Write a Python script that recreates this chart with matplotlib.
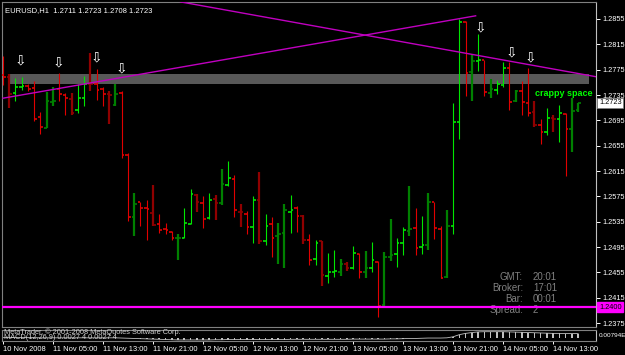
import matplotlib
matplotlib.use("Agg")
from matplotlib import pyplot as plt
from matplotlib import transforms
import numpy as np
import pandas as pd

# hourly EURUSD bars, 10 Nov 2008 21:00 .. 14 Nov 2008 17:00
opens = [1.2767, 1.2763, 1.2738, 1.2747, 1.2749, 1.2746, 1.2700, 1.2683, 1.2724, 1.2744,
         1.2735, 1.2729, 1.2712, 1.2731, 1.2753, 1.2753, 1.2744, 1.2736, 1.2720, 1.2739,
         1.2641, 1.2542, 1.2566, 1.2556, 1.2549, 1.2531, 1.2523, 1.2519, 1.2509, 1.2510,
         1.2532, 1.2578, 1.2564, 1.2541, 1.2571, 1.2564, 1.2593, 1.2603, 1.2551, 1.2547,
         1.2526, 1.2570, 1.2505, 1.2531, 1.2512, 1.2518, 1.2551, 1.2557, 1.2544, 1.2506,
         1.2476, 1.2504, 1.2449, 1.2455, 1.2456, 1.2469, 1.2462, 1.2484, 1.2456, 1.2462,
         1.2472, 1.2404, 1.2479, 1.2484, 1.2502, 1.2520, 1.2525, 1.2495, 1.2498, 1.2566,
         1.2523, 1.2448, 1.2529, 1.2693, 1.2850, 1.2772, 1.2788, 1.2790, 1.2738, 1.2743,
         1.2751, 1.2778, 1.2725, 1.2741, 1.2722, 1.2708, 1.2688, 1.2676, 1.2698, 1.2697,
         1.2705, 1.2681, 1.2711]
highs = [1.2796, 1.2768, 1.2762, 1.2764, 1.2752, 1.2757, 1.2709, 1.2740, 1.2747, 1.2769,
         1.2738, 1.2738, 1.2752, 1.2765, 1.2801, 1.2776, 1.2748, 1.2741, 1.2753, 1.2741,
         1.2643, 1.2581, 1.2567, 1.2569, 1.2593, 1.2548, 1.2533, 1.2520, 1.2515, 1.2557,
         1.2586, 1.2579, 1.2575, 1.2581, 1.2577, 1.2618, 1.2631, 1.2609, 1.2563, 1.2552,
         1.2576, 1.2613, 1.2548, 1.2543, 1.2533, 1.2563, 1.2577, 1.2560, 1.2546, 1.2516,
         1.2506, 1.2505, 1.2485, 1.2490, 1.2476, 1.2471, 1.2497, 1.2485, 1.2489, 1.2503,
         1.2473, 1.2487, 1.2539, 1.2509, 1.2527, 1.2592, 1.2557, 1.2544, 1.2580, 1.2567,
         1.2529, 1.2554, 1.2723, 1.2855, 1.2852, 1.2798, 1.2831, 1.2791, 1.2760, 1.2759,
         1.2787, 1.2787, 1.2743, 1.2757, 1.2777, 1.2725, 1.2697, 1.2714, 1.2704, 1.2719,
         1.2706, 1.2730, 1.2723]
lows = [1.2751, 1.2715, 1.2725, 1.2743, 1.2742, 1.2694, 1.2673, 1.2683, 1.2718, 1.2725,
        1.2704, 1.2704, 1.2706, 1.2717, 1.2741, 1.2727, 1.2718, 1.2690, 1.2718, 1.2635,
        1.2537, 1.2513, 1.2529, 1.2507, 1.2529, 1.2517, 1.2515, 1.2507, 1.2474, 1.2509,
        1.2531, 1.2551, 1.2525, 1.2540, 1.2538, 1.2562, 1.2592, 1.2543, 1.2526, 1.2516,
        1.2501, 1.2500, 1.2498, 1.2479, 1.2468, 1.2462, 1.2518, 1.2519, 1.2500, 1.2467,
        1.2467, 1.2433, 1.2439, 1.2448, 1.2449, 1.2458, 1.2461, 1.2446, 1.2447, 1.2456,
        1.2384, 1.2401, 1.2473, 1.2464, 1.2483, 1.2513, 1.2482, 1.2484, 1.2490, 1.2508,
        1.2446, 1.2446, 1.2516, 1.2666, 1.2733, 1.2725, 1.2773, 1.2733, 1.2731, 1.2737,
        1.2747, 1.2711, 1.2724, 1.2704, 1.2702, 1.2685, 1.2658, 1.2672, 1.2677, 1.2661,
        1.2607, 1.2645, 1.2708]
closes = [1.2763, 1.2737, 1.2747, 1.2749, 1.2744, 1.2697, 1.2684, 1.2725, 1.2726, 1.2737,
          1.2730, 1.2706, 1.2731, 1.2752, 1.2752, 1.2743, 1.2736, 1.2735, 1.2736, 1.2640,
          1.2543, 1.2563, 1.2556, 1.2555, 1.2530, 1.2522, 1.2522, 1.2510, 1.2510, 1.2533,
          1.2579, 1.2566, 1.2540, 1.2569, 1.2564, 1.2594, 1.2604, 1.2553, 1.2550, 1.2526,
          1.2569, 1.2504, 1.2529, 1.2510, 1.2516, 1.2554, 1.2554, 1.2544, 1.2507, 1.2474,
          1.2502, 1.2451, 1.2456, 1.2457, 1.2468, 1.2462, 1.2485, 1.2456, 1.2462, 1.2474,
          1.2402, 1.2479, 1.2483, 1.2501, 1.2522, 1.2523, 1.2493, 1.2499, 1.2567, 1.2525,
          1.2447, 1.2529, 1.2692, 1.2851, 1.2769, 1.2788, 1.2790, 1.2740, 1.2745, 1.2752,
          1.2778, 1.2724, 1.2741, 1.2724, 1.2706, 1.2688, 1.2676, 1.2698, 1.2697, 1.2706,
          1.2681, 1.2710, 1.2723]
# bar state from the colouring indicator: g/r bright, G/R dark
states = "rRggrrrGGrrRggRrrRGrrGrrRrrrGggRrgRGgrRrgRgrGGgrRrgRggGRgrGgrGGggGrgGrrGggrGgrGggrGrrRrgRgrGG"

times = pd.date_range("2008-11-10 21:00", periods=len(opens), freq="h")

# objects drawn on the chart
band_top, band_bot = 1.2768, 1.2752
band_from, band_to = 1.07, 93.7
rise_line = ([0, 75.6], [1.2730, 1.2860])
fall_line = ([28.4, 94.8], [1.2882, 1.2764])
level = 1.2400
arrow_bars = [2.8, 8.9, 14.9, 18.9, 76.3, 81.4, 84.3]
arrow_prices = [1.2789, 1.2786, 1.2794, 1.2777, 1.2841, 1.2802, 1.2795]

# MACD histogram (indicator window)
macd = [0.0004, 0.0004, 0.0004, 0.0004, 0.0004, 0.0004, 0.0003, 0.0003, 0.0003, 0.0003,
        0.0003, 0.0003, 0.0003, 0.0003, 0.0003, 0.0003, 0.0003, 0.0003, 0.0003, 0.0002,
        0.0001, 0.0000, -0.0001, -0.0002, -0.0003, -0.0004, -0.0005, -0.0006, -0.0007, -0.0007,
        -0.0007, -0.0007, -0.0007, -0.0007, -0.0006, -0.0006, -0.0005, -0.0005, -0.0005, -0.0005,
        -0.0005, -0.0005, -0.0005, -0.0005, -0.0005, -0.0005, -0.0004, -0.0004, -0.0004, -0.0004,
        -0.0004, -0.0004, -0.0004, -0.0004, -0.0004, -0.0004, -0.0003, -0.0003, -0.0003, -0.0003,
        -0.0003, -0.0003, -0.0002, -0.0002, -0.0001, 0.0000, 0.0000, 0.0001, 0.0002, 0.0002,
        0.0002, 0.0003, 0.0008, 0.0018, 0.0024, 0.0028, 0.0031, 0.0032, 0.0032, 0.0032,
        0.0032, 0.0031, 0.0030, 0.0029, 0.0028, 0.0027, 0.0026, 0.0025, 0.0024, 0.0024,
        0.0023, 0.0023, 0.0023]

W, H = 625, 355
plt.rcParams["font.family"] = ["Liberation Sans", "DejaVu Sans"]
fig = plt.figure(figsize=(W / 100, H / 100), dpi=100, facecolor="black")

def box(x0, y0, x1, y1):
    return [x0 / W, 1 - y1 / H, (x1 - x0) / W, (y1 - y0) / H]

ax = fig.add_axes(box(2, 2, 596, 327), facecolor="black")
ind = fig.add_axes(box(2, 330, 596, 341), facecolor="black")

x = np.arange(len(opens))
colors = {"g": "#00e600", "G": "#008000", "r": "#e00000", "R": "#900000"}
widths = {"g": 0.8, "G": 1.6, "r": 0.8, "R": 1.6}

ax.fill_between([band_from, band_to], band_bot, band_top, color="#585858", lw=0, zorder=1)

for i, s in enumerate(states):
    c, lw = colors[s], widths[s]
    ax.plot([x[i], x[i]], [lows[i], highs[i]], color=c, lw=lw, zorder=3, solid_capstyle="butt")
    ax.plot([x[i] - 0.42, x[i]], [opens[i], opens[i]], color=c, lw=1.2, zorder=3, solid_capstyle="butt")
    ax.plot([x[i], x[i] + 0.42], [closes[i], closes[i]], color=c, lw=1.2, zorder=3, solid_capstyle="butt")

ax.plot(rise_line[0], rise_line[1], color="#c000c0", lw=1.0, zorder=4)
ax.plot(fall_line[0], fall_line[1], color="#c000c0", lw=1.0, zorder=4)
ax.axhline(level, color="#ff00ff", lw=1.6, zorder=4)

for bx, by in zip(arrow_bars, arrow_prices):
    ax.text(bx, by, "\u21e9", color="white", fontsize=10, ha="center", va="center", zorder=5,
            family="DejaVu Sans")

ax.text(85.1, 1.2738, "crappy space", color="#00ff00", fontsize=6.5, fontweight="bold",
        ha="left", va="center", zorder=5)

ax.text(0.005, 0.985, "EURUSD,H1  %.4f %.4f %.4f %.4f" % (opens[-1], highs[-1], lows[-1], closes[-1]),
        transform=ax.transAxes, color="white", fontsize=5.5, ha="left", va="top")

info_names = ["GMT:", "Broker:", "Bar:", "Spread:"]
info_values = ["20:01", "17:01", "00:01", "2"]
for j, (nm, vl) in enumerate(zip(info_names, info_values)):
    yy = 0.155 - j * 0.034
    ax.text(0.877, yy, nm, transform=ax.transAxes, color="#808080", fontsize=7, ha="right", va="center")
    ax.text(0.894, yy, vl, transform=ax.transAxes, color="#808080", fontsize=7, ha="left", va="center")

ax.set_xlim(-0.15, 94.85)
ax.set_ylim(1.23690, 1.28818)
ax.yaxis.tick_right()
ax.set_yticks(np.arange(1.2375, 1.28551, 0.004))
ax.yaxis.set_major_formatter(matplotlib.ticker.FormatStrFormatter("%.4f"))
ax.tick_params(axis="y", colors="white", labelsize=5.3, length=3, width=0.7, pad=1.5)
ax.set_xticks([])
for side in ["left", "top", "bottom"]:
    ax.spines[side].set_color("#808080")
    ax.spines[side].set_linewidth(0.8)
ax.spines["right"].set_color("#c0c0c0")
ax.spines["right"].set_linewidth(0.8)

tr = transforms.blended_transform_factory(ax.transAxes, ax.transData)
ax.text(1.005, closes[-1], "%.4f" % closes[-1], transform=tr, color="black", fontsize=5.3,
        ha="left", va="center", bbox=dict(boxstyle="square,pad=0.2", fc="white", ec="#808080", lw=0.5))
ax.text(1.005, level, "%.4f" % level, transform=tr, color="black", fontsize=5.3,
        ha="left", va="center", bbox=dict(boxstyle="square,pad=0.2", fc="#ff00ff", ec="#ff00ff"))

# indicator window
ind.bar(x, macd, width=0.25, color="#c0c0c0", zorder=2)
ind.plot(x, macd, color="#c0c0c0", lw=0.6, zorder=2)
ind.set_xlim(-0.15, 94.85)
ind.set_ylim(-0.0012, 0.0040)
ind.set_yticks([])
ind.text(0.003, 0.8, "MetaTrader, \u00a9 2001-2008 MetaQuotes Software Corp.", transform=ind.transAxes,
         color="#d0d0d0", fontsize=5.3, ha="left", va="center")
ind.text(0.003, 0.3, "MACD(12,26,9) 0.0027 4 0.0027 4", transform=ind.transAxes,
         color="#d0d0d0", fontsize=5.3, ha="left", va="center")
ind.text(1.005, 0.5, "0.00794E", transform=ind.transAxes, color="white", fontsize=4.6, ha="left", va="center")
for side in ["left", "top", "bottom"]:
    ind.spines[side].set_color("#808080")
    ind.spines[side].set_linewidth(0.8)
ind.spines["right"].set_color("#c0c0c0")

tick_pos = list(range(0, len(opens), 8))
tick_lab = [times[0].strftime("%d %b %Y")] + [times[p].strftime("%d %b %H:%M") for p in tick_pos[1:]]
ind.set_xticks(tick_pos)
ind.set_xticklabels(tick_lab)
ind.tick_params(axis="x", colors="white", labelsize=5.4, length=2, width=0.7, pad=1.5)
for lab in ind.get_xticklabels():
    lab.set_horizontalalignment("left")

fig.savefig("out.png", dpi=100, facecolor="black")
